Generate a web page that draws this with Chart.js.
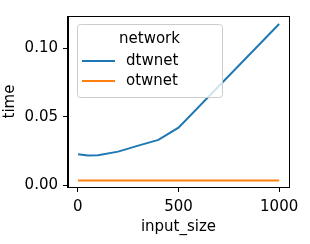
<!DOCTYPE html>
<html>
<head>
<meta charset="utf-8">
<script src="https://cdn.jsdelivr.net/npm/chart.js@4.4.0/dist/chart.umd.min.js"></script>
<style>
  html, body { margin: 0; padding: 0; background: #fff; }
  #wrap { width: 310px; height: 244px; }
</style>
</head>
<body>
<div id="wrap"><canvas id="timechart" width="310" height="244"></canvas></div>
<script>
// data
const inputSizes = [1, 50, 100, 200, 300, 400, 500, 1000];
const dtwnetTime = [0.0226, 0.0217, 0.0219, 0.0245, 0.0289, 0.0331, 0.0420, 0.1177];
const otwnetTime = [0.0035, 0.0035, 0.0035, 0.0035, 0.0035, 0.0035, 0.0035, 0.0035];
const xTicks = [0, 500, 1000];
const yTicks = [0, 0.05, 0.10];
const seriesNames = ['dtwnet', 'otwnet'];
const legendTitle = 'network';

Chart.defaults.font.family = "'DejaVu Sans', sans-serif";
Chart.defaults.font.size = 15;
Chart.defaults.color = '#000';

function points(ys) {
  return inputSizes.map((x, i) => ({ x: x, y: ys[i] }));
}

// box around plot + legend drawn inside the axes (matplotlib style)
const boxAndLegend = {
  id: 'boxAndLegend',
  afterDatasetsDraw(chart) {
    const ctx = chart.ctx;
    const a = chart.chartArea;
    ctx.save();
    ctx.strokeStyle = '#000';
    ctx.lineWidth = 1;
    ctx.strokeRect(Math.round(a.left) - 0.5, Math.round(a.top) + 0.5,
      Math.round(a.right - a.left) + 1, Math.round(a.bottom - a.top));

    // legend
    const lx = 77, ly = 24, lw = 145, lh = 73;
    ctx.fillStyle = 'rgba(255,255,255,0.8)';
    ctx.strokeStyle = '#cccccc';
    ctx.beginPath();
    ctx.roundRect(lx + 0.5, ly + 0.5, lw, lh, 3);
    ctx.fill();
    ctx.stroke();

    ctx.fillStyle = '#000';
    ctx.font = "15px 'DejaVu Sans'";
    ctx.textBaseline = 'middle';
    ctx.textAlign = 'center';
    ctx.fillText(legendTitle, lx + lw / 2, ly + 15);
    ctx.textAlign = 'left';
    chart.data.datasets.forEach((ds, i) => {
      const y = ly + 37 + i * 20;
      ctx.strokeStyle = ds.borderColor;
      ctx.lineWidth = 2;
      ctx.beginPath();
      ctx.moveTo(82, y);
      ctx.lineTo(115, y);
      ctx.stroke();
      ctx.fillText(ds.label, 126, y);
    });
    ctx.restore();
  }
};

const chart = new Chart(document.getElementById('timechart'), {
  type: 'line',
  data: {
    datasets: [{
      label: seriesNames[0],
      data: points(dtwnetTime),
      borderColor: '#1f77b4',
      borderWidth: 2,
      pointRadius: 0,
      tension: 0
    }, {
      label: seriesNames[1],
      data: points(otwnetTime),
      borderColor: '#ff7f0e',
      borderWidth: 2,
      pointRadius: 0,
      tension: 0
    }]
  },
  options: {
    responsive: false,
    animation: false,
    layout: { padding: { left: 0, right: 21, top: 16, bottom: 0 } },
    plugins: {
      legend: { display: false },
      tooltip: { enabled: false }
    },
    scales: {
      x: {
        type: 'linear',
        min: -48.95,
        max: 1048.95,
        afterBuildTicks: (s) => { s.ticks = xTicks.map(v => ({ value: v })); },
        afterFit: (s) => { s.height = 57; },
        grid: { display: true, drawOnChartArea: false, drawTicks: true, tickLength: 5, tickColor: '#000' },
        border: { display: true, color: '#000', width: 1 },
        ticks: { padding: 6, maxRotation: 0, callback: (v) => String(v) },
        title: { display: true, text: 'input_size', padding: { top: 1, bottom: 8 } }
      },
      y: {
        min: -0.0013,
        max: 0.1235,
        afterBuildTicks: (s) => { s.ticks = yTicks.map(v => ({ value: v })); },
        afterFit: (s) => { s.width = 68; },
        grid: { display: true, drawOnChartArea: false, drawTicks: true, tickLength: 5, tickColor: '#000' },
        border: { display: true, color: '#000', width: 1 },
        ticks: { padding: 5, callback: (v) => v.toFixed(2) },
        title: { display: true, text: 'time', padding: { top: 1, bottom: 0 } }
      }
    }
  },
  plugins: [boxAndLegend]
});
</script>
</body>
</html>
